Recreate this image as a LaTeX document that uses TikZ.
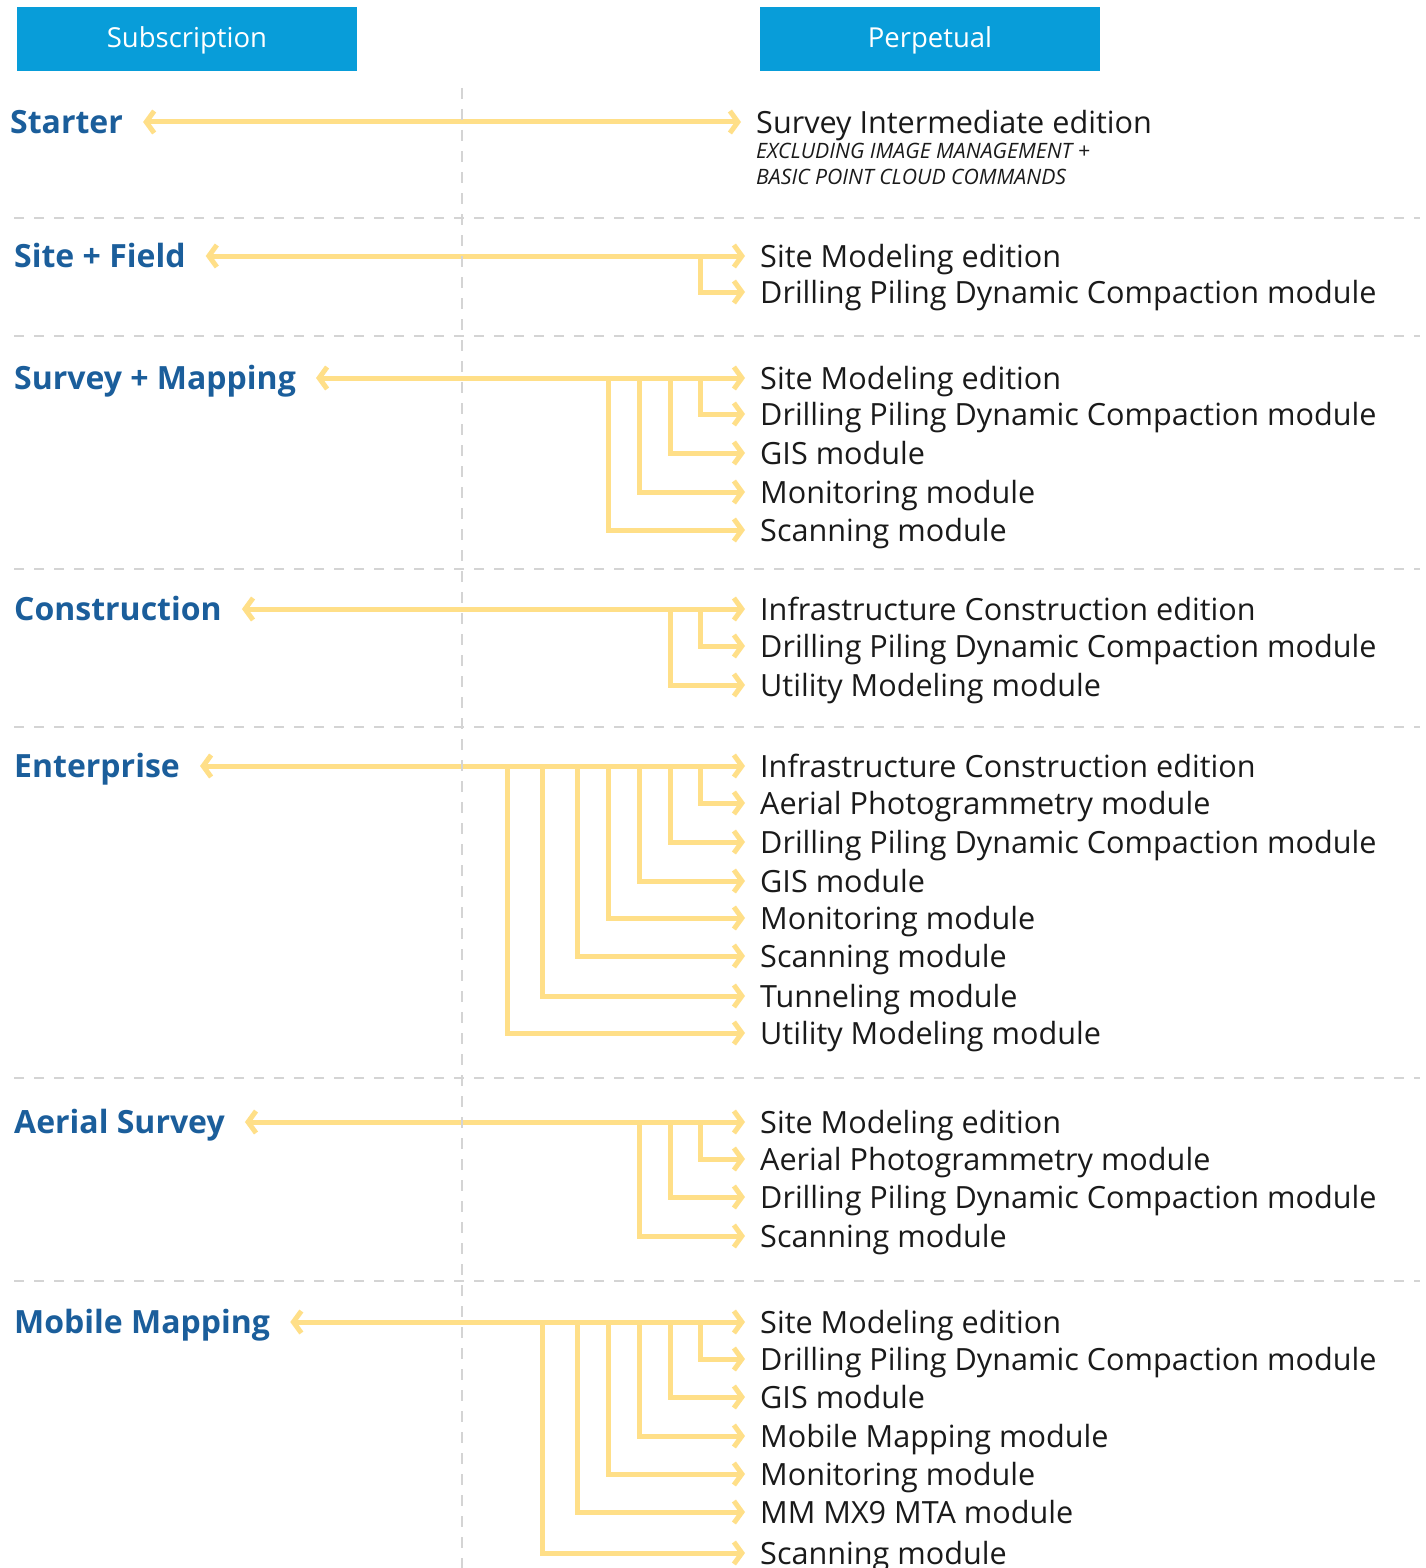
\documentclass[tikz,border=0pt]{standalone}
\usepackage{fontspec}
\setmainfont{Open Sans}
\usetikzlibrary{arrows.meta}
\definecolor{headbg}{HTML}{089DD9}
\definecolor{tierblue}{HTML}{1B5E9B}
\definecolor{linkyellow}{HTML}{FFDF88}
\definecolor{rulegrey}{HTML}{D4D4D4}
\definecolor{itemtext}{HTML}{1A1A1A}

\begin{document}
\begin{tikzpicture}[
    x=1pt, y=-1pt,
    header/.style={
        fill=headbg, text=white, minimum width=340pt,
        minimum height=64pt, inner sep=0pt, font=\fontsize{27.5}{32}\selectfont,
        text height=20pt, text depth=2pt
    },
    tier/.style={anchor=west, inner sep=0pt, text=tierblue,
        font=\fontsize{32}{38}\selectfont\bfseries, text height=23pt, text depth=0pt},
    item/.style={anchor=west, inner sep=0pt, text=itemtext,
        font=\fontsize{30.6}{36}\selectfont, text height=29pt, text depth=7pt},
    note/.style={anchor=west, inner sep=0pt, text=itemtext,
        font=\fontsize{21.2}{25}\selectfont\itshape, text height=15pt, text depth=0pt},
    link/.style={draw=linkyellow, line width=5pt,
        -{Straight Barb[length=8pt,width=22pt]}, shorten >=15pt},
    both/.style={link, {Straight Barb[length=8pt,width=22pt]}-{Straight Barb[length=8pt,width=22pt]},
        shorten <=20pt},
    sep/.style={draw=rulegrey, line width=2.5pt, dash pattern=on 10pt off 10pt},
]
\useasboundingbox (0,0) rectangle (1426,1568);

% Column headers
\node[header] (sub) at (187,39) {Subscription};
\node[header] (perp) at (930,39) {Perpetual};

% Starter
\node[tier] (starter) at (10,122) {Starter};
\node[item] (st1) at (756,122) {Survey Intermediate edition};
\node[note] (st1a) at (756,151) {EXCLUDING IMAGE MANAGEMENT +};
\node[note] (st1b) at (756,177) {BASIC POINT CLOUD COMMANDS};
\draw[both] (starter.east) -- (starter.east -| st1.west);

% Site + Field
\node[tier] (sitefield) at (14,256) {Site + Field};
\node[item] (sf1) at (760,256) {Site Modeling edition};
\node[item] (sf2) at (760,292) {Drilling Piling Dynamic Compaction module};
\draw[both] (sitefield.east) -- (sitefield.east -| sf1.west);
\draw[link] ([xshift=-60pt]sf1.west) |- (sf2.west);

% Survey + Mapping
\node[tier] (survmap) at (14,378) {Survey + Mapping};
\node[item] (sm1) at (760,378) {Site Modeling edition};
\node[item] (sm2) at (760,414) {Drilling Piling Dynamic Compaction module};
\node[item] (sm3) at (760,453) {GIS module};
\node[item] (sm4) at (760,492) {Monitoring module};
\node[item] (sm5) at (760,530) {Scanning module};
\draw[both] (survmap.east) -- (survmap.east -| sm1.west);
\draw[link] ([xshift=-60pt]sm1.west) |- (sm2.west);
\draw[link] ([xshift=-90pt]sm1.west) |- (sm3.west);
\draw[link] ([xshift=-121pt]sm1.west) |- (sm4.west);
\draw[link] ([xshift=-152pt]sm1.west) |- (sm5.west);

% Construction
\node[tier] (constr) at (14,609) {Construction};
\node[item] (co1) at (760,609) {Infrastructure Construction edition};
\node[item] (co2) at (760,646) {Drilling Piling Dynamic Compaction module};
\node[item] (co3) at (760,685) {Utility Modeling module};
\draw[both] (constr.east) -- (constr.east -| co1.west);
\draw[link] ([xshift=-60pt]co1.west) |- (co2.west);
\draw[link] ([xshift=-90pt]co1.west) |- (co3.west);

% Enterprise
\node[tier] (enterp) at (14,766) {Enterprise};
\node[item] (en1) at (760,766) {Infrastructure Construction edition};
\node[item] (en2) at (760,803) {Aerial Photogrammetry module};
\node[item] (en3) at (760,842) {Drilling Piling Dynamic Compaction module};
\node[item] (en4) at (760,881) {GIS module};
\node[item] (en5) at (760,918) {Monitoring module};
\node[item] (en6) at (760,956) {Scanning module};
\node[item] (en7) at (760,996) {Tunneling module};
\node[item] (en8) at (760,1033) {Utility Modeling module};
\draw[both] (enterp.east) -- (enterp.east -| en1.west);
\draw[link] ([xshift=-60pt]en1.west) |- (en2.west);
\draw[link] ([xshift=-90pt]en1.west) |- (en3.west);
\draw[link] ([xshift=-121pt]en1.west) |- (en4.west);
\draw[link] ([xshift=-152pt]en1.west) |- (en5.west);
\draw[link] ([xshift=-183pt]en1.west) |- (en6.west);
\draw[link] ([xshift=-218pt]en1.west) |- (en7.west);
\draw[link] ([xshift=-253pt]en1.west) |- (en8.west);

% Aerial Survey
\node[tier] (aerial) at (14,1122) {Aerial Survey};
\node[item] (as1) at (760,1122) {Site Modeling edition};
\node[item] (as2) at (760,1159) {Aerial Photogrammetry module};
\node[item] (as3) at (760,1197) {Drilling Piling Dynamic Compaction module};
\node[item] (as4) at (760,1236) {Scanning module};
\draw[both] (aerial.east) -- (aerial.east -| as1.west);
\draw[link] ([xshift=-60pt]as1.west) |- (as2.west);
\draw[link] ([xshift=-90pt]as1.west) |- (as3.west);
\draw[link] ([xshift=-121pt]as1.west) |- (as4.west);

% Mobile Mapping
\node[tier] (mobile) at (14,1322) {Mobile Mapping};
\node[item] (mm1) at (760,1322) {Site Modeling edition};
\node[item] (mm2) at (760,1359) {Drilling Piling Dynamic Compaction module};
\node[item] (mm3) at (760,1397) {GIS module};
\node[item] (mm4) at (760,1436) {Mobile Mapping module};
\node[item] (mm5) at (760,1474) {Monitoring module};
\node[item] (mm6) at (760,1512) {MM MX9 MTA module};
\node[item] (mm7) at (760,1553) {Scanning module};
\draw[both] (mobile.east) -- (mobile.east -| mm1.west);
\draw[link] ([xshift=-60pt]mm1.west) |- (mm2.west);
\draw[link] ([xshift=-90pt]mm1.west) |- (mm3.west);
\draw[link] ([xshift=-121pt]mm1.west) |- (mm4.west);
\draw[link] ([xshift=-152pt]mm1.west) |- (mm5.west);
\draw[link] ([xshift=-183pt]mm1.west) |- (mm6.west);
\draw[link] ([xshift=-218pt]mm1.west) |- (mm7.west);

% Row separators
\draw[sep] (14,218) -- (1420,218);
\draw[sep] (14,336) -- (1420,336);
\draw[sep] (14,569) -- (1420,569);
\draw[sep] (14,727) -- (1420,727);
\draw[sep] (14,1078) -- (1420,1078);
\draw[sep] (14,1281) -- (1420,1281);

% Column divider
\draw[sep, dash pattern=on 11pt off 10pt] (462,88) -- (462,1568);

\end{tikzpicture}
\end{document}
